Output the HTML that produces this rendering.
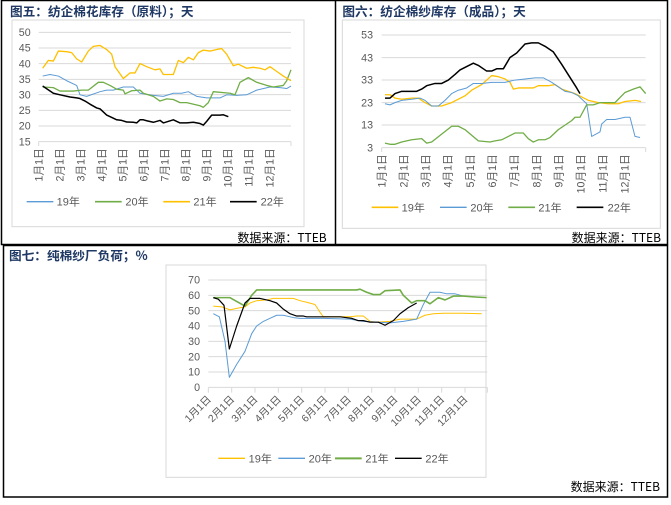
<!DOCTYPE html>
<html><head><meta charset="utf-8"><style>
body{margin:0;width:671px;height:505px;background:#fff;overflow:hidden;position:relative;font-family:"Liberation Sans","Noto Sans CJK SC",sans-serif}
svg{position:absolute}
.t{font-family:"Noto Sans CJK SC","WenQuanYi Zen Hei",sans-serif;font-weight:bold;fill:#1f3864}
.ax{fill:#595959;font-family:"Liberation Sans","Noto Sans CJK SC",sans-serif}
.src{font-family:"WenQuanYi Zen Hei","Noto Sans CJK SC",monospace;fill:#000}
.g line{stroke:#d9d9d9;stroke-width:3}
</style></head><body>
<svg width="671" height="505" style="left:0;top:0">
<rect x="1.5" y="0.5" width="666" height="244" fill="none" stroke="#000" stroke-width="1.5"/>
<line x1="335.5" y1="0" x2="335.5" y2="244" stroke="#000" stroke-width="1.5"/>
<rect x="3.5" y="245.5" width="664" height="251.5" fill="none" stroke="#000" stroke-width="1.5"/>
</svg>

<!-- Chart 1 -->
<svg width="335" height="250" viewBox="0 0 1005 750" style="left:0;top:0">
<text x="30" y="48" class="t" font-size="38">图五：纺企棉花库存（原料）；天</text>
<rect x="36" y="60" width="876" height="620" fill="none" stroke="#d9d9d9" stroke-width="3"/>
<g class="g"><line x1="116" x2="873" y1="97" y2="97"/><line x1="116" x2="873" y1="144" y2="144"/><line x1="116" x2="873" y1="191" y2="191"/><line x1="116" x2="873" y1="238" y2="238"/><line x1="116" x2="873" y1="284" y2="284"/><line x1="116" x2="873" y1="331" y2="331"/><line x1="116" x2="873" y1="378" y2="378"/><line x1="116" x2="873" y1="425" y2="425"/></g>
<g class="ax" font-size="32" text-anchor="end"><text x="92" y="108">50</text><text x="92" y="155">45</text><text x="92" y="202">40</text><text x="92" y="249">35</text><text x="92" y="295">30</text><text x="92" y="342">25</text><text x="92" y="389">20</text><text x="92" y="436">15</text></g>
<g stroke="#d9d9d9" stroke-width="3"><line x1="116" y1="425" x2="116" y2="438"/><line x1="873" y1="425" x2="873" y2="438"/></g>
<g class="ax" font-size="32" text-anchor="end">
<text transform="translate(127,445) rotate(-90)">1月1日</text><text transform="translate(190,445) rotate(-90)">2月1日</text><text transform="translate(253,445) rotate(-90)">3月1日</text><text transform="translate(316,445) rotate(-90)">4月1日</text><text transform="translate(379,445) rotate(-90)">5月1日</text><text transform="translate(442,445) rotate(-90)">6月1日</text><text transform="translate(505,445) rotate(-90)">7月1日</text><text transform="translate(568,445) rotate(-90)">8月1日</text><text transform="translate(631,445) rotate(-90)">9月1日</text><text transform="translate(694,445) rotate(-90)">10月1日</text><text transform="translate(757,445) rotate(-90)">11月1日</text><text transform="translate(820,445) rotate(-90)">12月1日</text></g>
<g transform="matrix(1,0,0,-9.37,0,565.5)" fill="none" stroke-linejoin="round">
<polyline vector-effect="non-scaling-stroke" stroke="#5b9bd5" stroke-width="1" points="128,36 150,36.5 175,36 200,34.5 230,33 240,30 260,29.5 300,31 320,31.5 340,31.5 370,32.5 400,32.5 420,30.5 460,29.8 490,29.5 520,30.5 545,30.5 565,31 590,29.5 620,29 660,29 680,30 710,29.8 740,30 770,31.5 810,32.5 840,32.3 860,32 873,32.8"/>
<polyline vector-effect="non-scaling-stroke" stroke="#70ad47" stroke-width="1.3" points="128,32.5 160,32.3 180,31.2 220,31.2 245,31.5 265,31.5 295,34 310,34 330,33 350,31.8 370,31.5 375,30.3 395,31.3 420,31.5 430,30.5 460,29.5 480,28 500,28.7 520,28.5 540,27.5 560,27.5 600,26.5 610,26 625,27.5 640,31 690,30.5 705,30 720,34 745,35.5 770,34 800,33 820,32.5 850,33 860,34.5 873,38"/>
<polyline vector-effect="non-scaling-stroke" stroke="#ffc000" stroke-width="1.3" points="128,38.5 145,41 160,40.8 175,44 200,43.8 215,43.5 230,41.5 245,40.5 265,44 280,45.5 300,45.8 320,44.5 335,43 345,39 370,35.2 390,37 405,37 420,40 440,39 465,38 480,38.3 490,36.5 520,36.5 535,41 550,40.3 565,42 580,41.2 595,43.5 610,44.3 630,44 650,44.5 665,44.8 680,43 700,39.3 715,39.8 740,38.5 760,38.8 780,38.5 795,38 810,39 830,37.5 850,36 873,34.5"/>
<polyline vector-effect="non-scaling-stroke" stroke="#000" stroke-width="1.5" points="128,32.8 160,30.5 180,30 210,29.3 230,29 240,28.8 255,28 270,27 290,25.8 300,25.5 320,23.5 340,22.5 350,22 365,21.8 380,21.3 400,21.2 410,21 420,22 430,22 440,21.7 460,21.2 480,21.8 490,21 520,22 540,21 560,21 580,21.2 600,20.8 610,20.3 620,21.5 635,23.5 660,23.5 670,23.6 685,23"/>
</g>
<g stroke-width="5"><line x1="80" x2="160" y1="605" y2="605" stroke="#5b9bd5" stroke-width="4"/><line x1="285" x2="365" y1="605" y2="605" stroke="#70ad47"/><line x1="490" x2="570" y1="605" y2="605" stroke="#ffc000"/><line x1="690" x2="770" y1="605" y2="605" stroke="#000"/></g>
<g class="ax" font-size="33"><text x="170" y="617">19年</text><text x="376" y="617">20年</text><text x="580" y="617">21年</text><text x="782" y="617">22年</text></g>
<text x="980" y="726" class="src" font-size="36" text-anchor="end">数据来源：TTEB</text>
</svg>

<!-- Chart 2 -->
<svg width="336" height="250" viewBox="0 0 1008 750" style="left:335px;top:0">
<text x="22" y="48" class="t" font-size="38">图六：纺企棉纱库存（成品）；天</text>
<rect x="22" y="60" width="954" height="625" fill="none" stroke="#d9d9d9" stroke-width="3"/>
<g class="g"><line x1="140" x2="932" y1="105" y2="105"/><line x1="140" x2="932" y1="173" y2="173"/><line x1="140" x2="932" y1="240" y2="240"/><line x1="140" x2="932" y1="308" y2="308"/><line x1="140" x2="932" y1="375" y2="375"/><line x1="140" x2="932" y1="443" y2="443"/></g>
<g class="ax" font-size="32" text-anchor="end"><text x="114" y="116">53</text><text x="114" y="184">43</text><text x="114" y="251">33</text><text x="114" y="319">23</text><text x="114" y="386">13</text><text x="114" y="454">3</text></g>
<g stroke="#d9d9d9" stroke-width="3"><line x1="140" y1="443" x2="140" y2="456"/><line x1="932" y1="443" x2="932" y2="456"/></g>
<g class="ax" font-size="32" text-anchor="end">
<text transform="translate(151,463) rotate(-90)">1月1日</text><text transform="translate(217,463) rotate(-90)">2月1日</text><text transform="translate(284,463) rotate(-90)">3月1日</text><text transform="translate(350,463) rotate(-90)">4月1日</text><text transform="translate(417,463) rotate(-90)">5月1日</text><text transform="translate(483,463) rotate(-90)">6月1日</text><text transform="translate(549,463) rotate(-90)">7月1日</text><text transform="translate(616,463) rotate(-90)">8月1日</text><text transform="translate(682,463) rotate(-90)">9月1日</text><text transform="translate(749,463) rotate(-90)">10月1日</text><text transform="translate(815,463) rotate(-90)">11月1日</text><text transform="translate(881,463) rotate(-90)">12月1日</text></g>
<g transform="matrix(1,0,0,-6.76,0,463.3)" fill="none" stroke-linejoin="round">
<polyline vector-effect="non-scaling-stroke" stroke="#ffc000" stroke-width="1.3" points="150,26.5 165,26.5 180,25 200,24.5 230,25 250,25 270,23 290,21.5 320,21.5 350,23 370,24.5 390,26 410,28.5 440,31 470,35 490,34.5 510,33.5 525,32 535,29 550,29.5 595,29.5 610,30.5 640,30.5 660,31 680,29 700,28 720,27 740,25.5 760,24 790,23 820,22.5 850,22.5 870,23.5 900,24 918,23.5"/>
<polyline vector-effect="non-scaling-stroke" stroke="#5b9bd5" stroke-width="1" points="150,22.5 165,22 180,23 200,24 230,24.5 255,25 270,24 290,21.5 310,21.5 330,24 350,27 370,28.5 395,29.5 415,31.5 440,31.5 470,32 510,32 540,33 570,33.5 600,34 625,34 650,32 670,30 690,28 710,27.5 730,26 755,22.5 770,8 795,10 800,13.5 815,15.5 840,15.5 870,16.5 885,16.5 900,8 915,7.5"/>
<polyline vector-effect="non-scaling-stroke" stroke="#70ad47" stroke-width="1.3" points="150,5 165,4.5 180,4.5 200,5.5 230,6.5 260,7 275,5 290,5.5 320,9 350,12.5 370,12.5 390,11 410,8.5 430,6 465,5.5 480,6 500,6.5 520,8 540,9.5 565,9.5 580,7 595,5.5 610,6.5 630,6.5 645,7.5 670,11 690,13 710,15 720,16.5 735,16.5 755,22 775,22 795,23 840,23 870,27.5 895,29 915,30 932,27"/>
<polyline vector-effect="non-scaling-stroke" stroke="#000" stroke-width="1.5" points="150,25 165,25 180,27 200,28 245,28 260,29 275,30.5 300,31.5 320,31.5 340,33 360,35.5 375,37.5 395,39 415,40.5 430,39.5 455,37 470,37 485,38 505,38 525,43 545,45 570,49 590,49.5 610,49.5 630,48 655,45.5 680,40 710,33 725,29.5 735,27"/>
</g>
<g stroke-width="5"><line x1="110" x2="190" y1="622" y2="622" stroke="#ffc000"/><line x1="315" x2="395" y1="622" y2="622" stroke="#5b9bd5" stroke-width="4"/><line x1="520" x2="600" y1="622" y2="622" stroke="#70ad47"/><line x1="725" x2="805" y1="622" y2="622" stroke="#000"/></g>
<g class="ax" font-size="33"><text x="200" y="634">19年</text><text x="406" y="634">20年</text><text x="610" y="634">21年</text><text x="818" y="634">22年</text></g>
<text x="978" y="726" class="src" font-size="36" text-anchor="end">数据来源：TTEB</text>
</svg>

<!-- Chart 3 -->
<svg width="671" height="255" viewBox="0 0 2013 765" style="left:0;top:250px">
<text x="27" y="30" class="t" font-size="38">图七：纯棉纱厂负荷；%</text>
<text x="1980" y="723" class="src" font-size="36" text-anchor="end">数据来源：TTEB</text>
<g transform="translate(450,0)">
<rect x="48" y="45" width="960" height="637" fill="none" stroke="#d9d9d9" stroke-width="3"/>
<g class="g"><line x1="175" x2="1012" y1="90" y2="90"/><line x1="175" x2="1012" y1="136" y2="136"/><line x1="175" x2="1012" y1="182" y2="182"/><line x1="175" x2="1012" y1="228" y2="228"/><line x1="175" x2="1012" y1="274" y2="274"/><line x1="175" x2="1012" y1="320" y2="320"/><line x1="175" x2="1012" y1="366" y2="366"/><line x1="175" x2="1012" y1="412" y2="412"/></g>
<g class="ax" font-size="32" text-anchor="end"><text x="150" y="101">70</text><text x="150" y="147">60</text><text x="150" y="193">50</text><text x="150" y="239">40</text><text x="150" y="285">30</text><text x="150" y="331">20</text><text x="150" y="377">10</text><text x="150" y="423">0</text></g>
<g stroke="#d9d9d9" stroke-width="3"><line x1="175" y1="412" x2="175" y2="428"/><line x1="245" y1="412" x2="245" y2="428"/><line x1="315" y1="412" x2="315" y2="428"/><line x1="385" y1="412" x2="385" y2="428"/><line x1="455" y1="412" x2="455" y2="428"/><line x1="525" y1="412" x2="525" y2="428"/><line x1="595" y1="412" x2="595" y2="428"/><line x1="665" y1="412" x2="665" y2="428"/><line x1="735" y1="412" x2="735" y2="428"/><line x1="805" y1="412" x2="805" y2="428"/><line x1="875" y1="412" x2="875" y2="428"/><line x1="945" y1="412" x2="945" y2="428"/><line x1="1012" y1="412" x2="1012" y2="428"/></g>
<g class="ax" font-size="31" text-anchor="end">
<text transform="translate(185,450) rotate(-45)">1月1日</text><text transform="translate(255,450) rotate(-45)">2月1日</text><text transform="translate(325,450) rotate(-45)">3月1日</text><text transform="translate(395,450) rotate(-45)">4月1日</text><text transform="translate(465,450) rotate(-45)">5月1日</text><text transform="translate(535,450) rotate(-45)">6月1日</text><text transform="translate(605,450) rotate(-45)">7月1日</text><text transform="translate(675,450) rotate(-45)">8月1日</text><text transform="translate(745,450) rotate(-45)">9月1日</text><text transform="translate(815,450) rotate(-45)">10月1日</text><text transform="translate(885,450) rotate(-45)">11月1日</text><text transform="translate(955,450) rotate(-45)">12月1日</text></g>
<g transform="matrix(1,0,0,-4.6,0,412)" fill="none" stroke-linejoin="round">
<polyline vector-effect="non-scaling-stroke" stroke="#ffc000" stroke-width="1" points="190,53 215,52.5 240,50.5 260,51.5 285,52.5 300,55 320,56.5 350,57 370,58 430,58 450,56.5 470,55.5 495,54 510,49 520,46 560,46 600,46 620,46.5 640,46.5 660,43 680,42.5 720,43 750,44.5 800,44.5 825,47 850,48 880,48.3 940,48.3 995,48"/>
<polyline vector-effect="non-scaling-stroke" stroke="#5b9bd5" stroke-width="1" points="190,48 208,46 225,30 238,6.5 260,15 285,23.5 305,35 320,40 340,43 360,45 380,47 400,47 430,45.5 450,45 520,45 600,44.5 640,43 680,42.5 720,42 760,43 800,44.5 820,54 840,62 870,62 890,61 915,61 940,59.5 975,59 995,58.5"/>
<polyline vector-effect="non-scaling-stroke" stroke="#70ad47" stroke-width="1.6" points="190,58.5 240,58.5 260,56 285,53 305,60 320,63.5 620,63.5 630,64 650,62 670,60.5 690,60.5 705,63 750,63.5 760,60 785,55 800,56.5 825,56.5 840,54.5 865,58.5 885,57 910,59.5 940,59.5 970,59 1010,58.5"/>
<polyline vector-effect="non-scaling-stroke" stroke="#000" stroke-width="1.2" points="190,58.5 205,57.5 222,53.5 238,25 260,40 285,55 300,58 330,58 360,56.5 380,55 400,51 420,48 440,46.5 460,46.5 470,46 520,46 570,46 605,45 625,43.5 640,43.5 660,42.5 685,42.5 705,40.5 730,43.5 750,48 775,52 800,55"/>
</g>
<g stroke-width="5"><line x1="205" x2="285" y1="625" y2="625" stroke="#ffc000" stroke-width="4"/><line x1="385" x2="465" y1="625" y2="625" stroke="#5b9bd5" stroke-width="4"/><line x1="555" x2="635" y1="625" y2="625" stroke="#70ad47" stroke-width="6"/><line x1="735" x2="815" y1="625" y2="625" stroke="#000" stroke-width="4"/></g>
<g class="ax" font-size="33"><text x="296" y="637">19年</text><text x="476" y="637">20年</text><text x="646" y="637">21年</text><text x="826" y="637">22年</text></g>
</g>
</svg>
</body></html>
